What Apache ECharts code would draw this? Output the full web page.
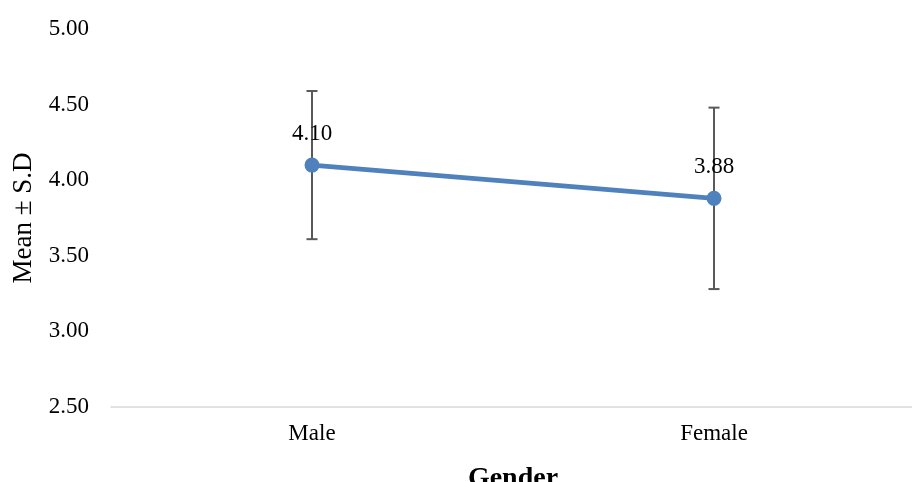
<!DOCTYPE html>
<html>
<head>
<meta charset="utf-8">
<script src="https://cdn.jsdelivr.net/npm/echarts@6/dist/echarts.min.js"></script>
<style>
html,body{margin:0;padding:0;background:#fff;}
#chart{width:912px;height:482px;}
</style>
</head>
<body>
<div id="chart"></div>
<script>
var categories = ['Male', 'Female'];
var means = [4.10, 3.88];
var upper = [4.59, 4.48];
var lower = [3.61, 3.28];
var yTicks = ['2.50', '3.00', '3.50', '4.00', '4.50', '5.00'];

var font = '"Liberation Serif", "Times New Roman", serif';
var chart = echarts.init(document.getElementById('chart'));

var errData = categories.map(function (c, i) { return [i, lower[i], upper[i]]; });

chart.setOption({
  animation: false,
  grid: { left: 111, right: -3, top: 29, bottom: 75, containLabel: false, outerBoundsMode: 'none' },
  xAxis: {
    type: 'category',
    data: categories,
    boundaryGap: true,
    name: 'Gender',
    nameLocation: 'middle',
    nameGap: 58,
    nameTextStyle: { fontFamily: font, fontSize: 28, fontWeight: 'bold', color: '#000' },
    axisLine: { lineStyle: { color: '#d9d9d9', width: 1.5 } },
    axisTick: { show: false },
    axisLabel: { fontFamily: font, fontSize: 23, color: '#000', margin: 15 },
    splitLine: { show: false }
  },
  yAxis: {
    type: 'value',
    min: 2.5,
    max: 5.0,
    interval: 0.5,
    name: 'Mean ± S.D',
    nameLocation: 'middle',
    nameGap: 73,
    nameRotate: 90,
    nameTextStyle: { fontFamily: font, fontSize: 27, color: '#000' },
    axisLine: { show: false },
    axisTick: { show: false },
    splitLine: { show: false },
    axisLabel: {
      fontFamily: font, fontSize: 23, color: '#000', margin: 22,
      formatter: function (v) {
        var s = v.toFixed(2);
        return yTicks.indexOf(s) >= 0 ? s : '';
      }
    }
  },
  series: [
    {
      type: 'custom',
      z: 1,
      data: errData,
      renderItem: function (params, api) {
        var x = api.value(0);
        var lo = api.coord([x, api.value(1)]);
        var hi = api.coord([x, api.value(2)]);
        var w = 5.5;
        var style = { stroke: '#595959', lineWidth: 2 };
        return {
          type: 'group',
          children: [
            { type: 'line', shape: { x1: hi[0], y1: hi[1], x2: lo[0], y2: lo[1] }, style: style },
            { type: 'line', shape: { x1: hi[0] - w, y1: hi[1], x2: hi[0] + w, y2: hi[1] }, style: style },
            { type: 'line', shape: { x1: lo[0] - w, y1: lo[1], x2: lo[0] + w, y2: lo[1] }, style: style }
          ]
        };
      }
    },
    {
      type: 'line',
      z: 3,
      data: means,
      symbol: 'circle',
      symbolSize: 15,
      lineStyle: { color: '#4f81bd', width: 4.8 },
      itemStyle: { color: '#4f81bd' },
      label: {
        show: true,
        position: 'top',
        distance: 12,
        fontFamily: font,
        fontSize: 23,
        color: '#000',
        formatter: function (p) { return p.value.toFixed(2); }
      }
    }
  ]
});
</script>
</body>
</html>
